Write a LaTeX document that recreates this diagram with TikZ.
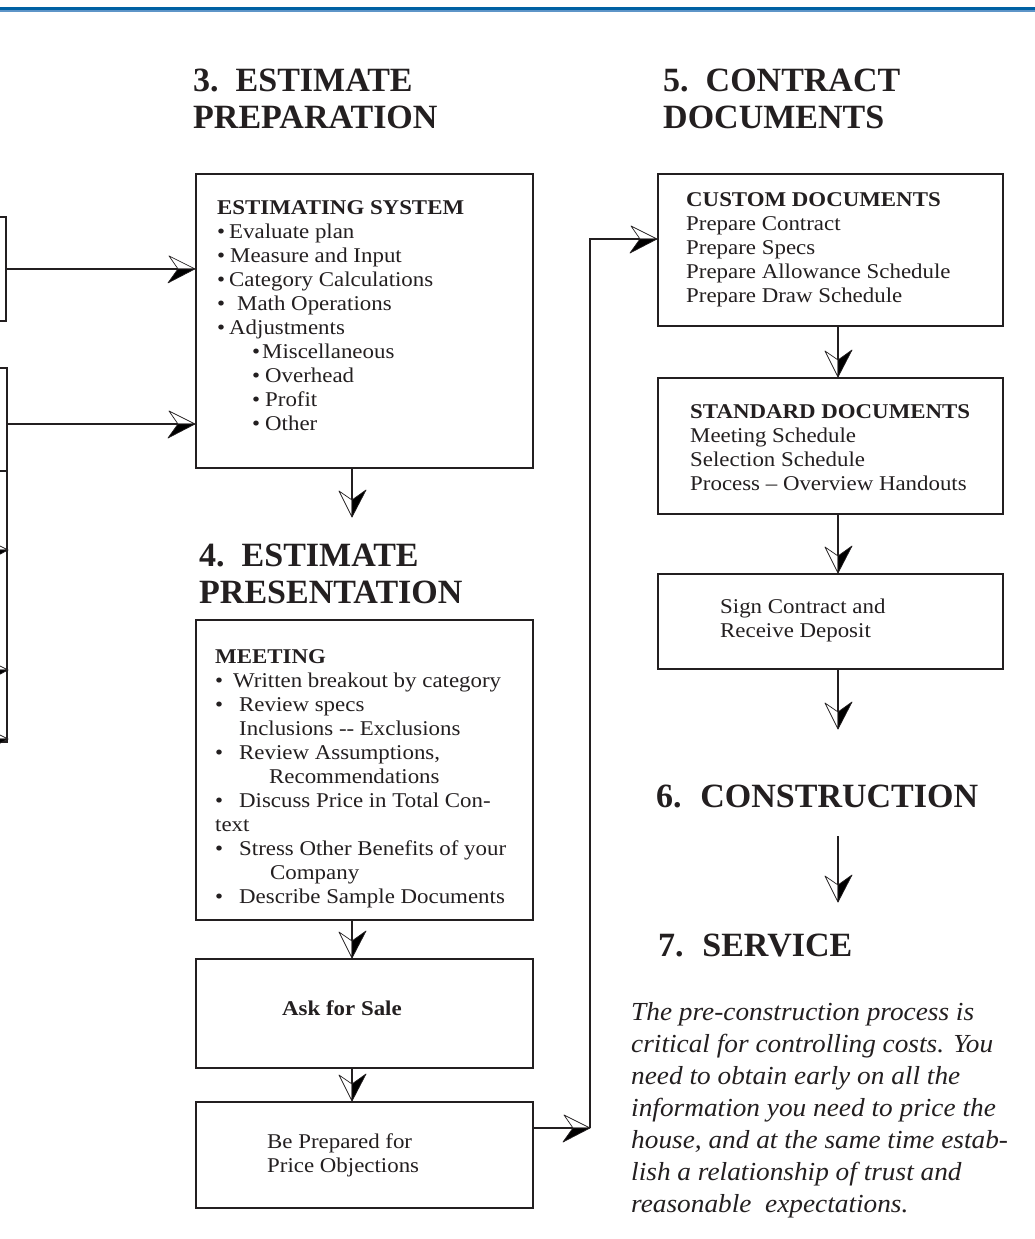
\documentclass[tikz,border=0pt]{standalone}
\usepackage{fontspec}
\setmainfont{Liberation Serif}
\newfontfamily\bodyfont[FakeStretch=1.09]{Liberation Serif}
\newfontfamily\parfont[FakeStretch=1.05]{Liberation Serif}
\usetikzlibrary{calc}
\definecolor{ink}{HTML}{231F20}
\definecolor{rule}{HTML}{0061A3}
\definecolor{rulelight}{HTML}{5E95C8}
\newcommand\rows[1]{\vtop{\halign{##\hfil\cr#1\crcr}}}
\newcommand\B[1]{\makebox[#1pt][l]{•}}
\pgfdeclarearrow{
  name=SplitL,
  setup code={
    \pgfarrowssettipend{0pt}
    \pgfarrowssetlineend{-15pt}
    \pgfarrowshullpoint{0pt}{0pt}
    \pgfarrowshullpoint{-27pt}{14pt}
    \pgfarrowshullpoint{-27pt}{-14pt}
  },
  drawing code={
    \pgfsetlinewidth{0.7pt}
    \pgfsetroundjoin
    \pgfpathmoveto{\pgfpointorigin}
    \pgfpathlineto{\pgfpoint{-26pt}{13pt}}
    \pgfpathlineto{\pgfpoint{-17pt}{0pt}}
    \pgfpathclose
    \pgfsetfillcolor{white}
    \pgfusepathqfillstroke
    \pgfpathmoveto{\pgfpointorigin}
    \pgfpathlineto{\pgfpoint{-27pt}{-14pt}}
    \pgfpathlineto{\pgfpoint{-17pt}{0pt}}
    \pgfpathclose
    \pgfsetfillcolor{black}
    \pgfusepathqfillstroke
  }
}
\pgfdeclarearrow{
  name=SplitR,
  setup code={
    \pgfarrowssettipend{0pt}
    \pgfarrowssetlineend{-15pt}
    \pgfarrowshullpoint{0pt}{0pt}
    \pgfarrowshullpoint{-27pt}{14pt}
    \pgfarrowshullpoint{-27pt}{-14pt}
  },
  drawing code={
    \pgfsetlinewidth{0.7pt}
    \pgfsetroundjoin
    \pgfpathmoveto{\pgfpointorigin}
    \pgfpathlineto{\pgfpoint{-26pt}{-13pt}}
    \pgfpathlineto{\pgfpoint{-17pt}{0pt}}
    \pgfpathclose
    \pgfsetfillcolor{white}
    \pgfusepathqfillstroke
    \pgfpathmoveto{\pgfpointorigin}
    \pgfpathlineto{\pgfpoint{-27pt}{14pt}}
    \pgfpathlineto{\pgfpoint{-17pt}{0pt}}
    \pgfpathclose
    \pgfsetfillcolor{black}
    \pgfusepathqfillstroke
  }
}
\tikzset{
  box/.style={draw=ink, line width=1.8pt, rectangle, inner sep=0pt, anchor=north west},
  conn/.style={draw=ink, line width=1.6pt},
  txt/.style={anchor=base west, inner sep=0pt, text=ink, font=\bodyfont\fontsize{21}{24}\selectfont},
  head/.style={anchor=base west, inner sep=0pt, text=ink, font=\bfseries\fontsize{34}{37}\selectfont},
}
\begin{document}
\begin{tikzpicture}[x=1pt,y=-1pt]
\useasboundingbox (0,0) rectangle (1035,1239);
\clip (0,0) rectangle (1035,1239);
\fill[white] (0,0) rectangle (1035,1239);
\fill[rule] (0,7.5) rectangle (1035,10.5);
\fill[rulelight] (0,10.5) rectangle (1035,12);

% left clipped boxes
\node[box, minimum width=40pt, minimum height=104pt, anchor=north east] (lA) at (7,216) {};
\node[box, minimum width=40pt, minimum height=103pt, anchor=north east] (lB) at (8,367) {};
\node[box, minimum width=40pt, minimum height=271pt, anchor=north east] (lC) at (8,470) {};

% main boxes
\node[box, minimum width=337pt, minimum height=294pt] (b3) at (195,173) {};
\node[box, minimum width=337pt, minimum height=300pt] (m4) at (195,619) {};
\node[box, minimum width=337pt, minimum height=109pt] (ask) at (195,958) {};
\node[box, minimum width=337pt, minimum height=106pt] (bp) at (195,1101) {};
\node[box, minimum width=345pt, minimum height=152pt] (c5) at (657,173) {};
\node[box, minimum width=345pt, minimum height=136pt] (s5) at (657,377) {};
\node[box, minimum width=345pt, minimum height=95pt] (g5) at (657,573) {};

% headings
\node[head] (h3) at (193,91) {\rows{3.\hspace{0.5em}ESTIMATE\cr PREPARATION}};
\node[head] (h5) at (663,91) {\rows{5.\hspace{0.5em}CONTRACT\cr DOCUMENTS}};
\node[head] (h4) at (199,566) {\rows{4.\hspace{0.5em}ESTIMATE\cr PRESENTATION}};
\node[head] (h6) at (656,807) {6.\hspace{0.55em}CONSTRUCTION};
\node[head] (h7) at (658,956) {7.\hspace{0.55em}SERVICE};

% box texts
\node[txt] (t3) at (217,214) {\rows{%
\textbf{ESTIMATING SYSTEM}\cr
\B{12}Evaluate plan\cr
\B{13}Measure and Input\cr
\B{12}Category Calculations\cr
\B{20}Math Operations\cr
\B{12}Adjustments\cr
\hspace*{35pt}\B{10}Miscellaneous\cr
\hspace*{35pt}\B{13}Overhead\cr
\hspace*{35pt}\B{13}Profit\cr
\hspace*{35pt}\B{13}Other}};

\node[txt] (t4) at (215,663) {\rows{%
\textbf{MEETING}\cr
\B{18}Written breakout by category\cr
\B{24}Review specs\cr
\hspace*{24pt}Inclusions -{}- Exclusions\cr
\B{24}Review Assumptions,\cr
\hspace*{54pt}Recommendations\cr
\B{24}Discuss Price in Total Con-\cr
text\cr
\B{24}Stress Other Benefits of your\cr
\hspace*{55pt}Company\cr
\B{24}Describe Sample Documents}};

\node[txt] (task) at (282,1015) {\textbf{Ask for Sale}};
\node[txt] (tbp) at (267,1148) {\rows{Be Prepared for\cr Price Objections}};

\node[txt] (tc5) at (686,206) {\rows{%
\textbf{CUSTOM DOCUMENTS}\cr
Prepare Contract\cr
Prepare Specs\cr
Prepare Allowance Schedule\cr
Prepare Draw Schedule}};
\node[txt] (ts5) at (690,418) {\rows{%
\textbf{STANDARD DOCUMENTS}\cr
Meeting Schedule\cr
Selection Schedule\cr
Process – Overview Handouts}};
\node[txt] (tg5) at (720,613) {\rows{Sign Contract and\cr Receive Deposit}};

\node[anchor=base west, inner sep=0pt, text=ink, font=\parfont\itshape\fontsize{26}{32}\selectfont] (para) at (631,1020) {\rows{%
The pre-construction process is\cr
critical for controlling costs. You\cr
need to obtain early on all the\cr
information you need to price the\cr
house, and at the same time estab-\cr
lish a relationship of trust and\cr
reasonable\ \ expectations.}};

% connectors, left column
\draw[conn,-SplitL] (lA.east) -- (lA.east -| b3.west);
\coordinate (aB) at ($(lB.north east)+(0,57)$);
\draw[conn,-SplitL] (aB) -- (aB -| b3.west);
\coordinate (in1) at (-40,550);
\coordinate (in2) at (-40,670);
\coordinate (in3) at (-40,739);
\draw[conn,-SplitL] (in1) -- (in1 -| lC.east);
\draw[conn,-SplitL] (in2) -- (in2 -| lC.east);
\draw[conn,-SplitL] (in3) -- (in3 -| lC.east);

% middle column
\coordinate (x3) at ($(b3.south west)+(157,0)$);
\coordinate (tip4) at (352,517);
\draw[conn,-SplitR] (x3) -- (tip4);
\draw[conn,-SplitR] ($(m4.south west)+(157,0)$) -- ($(ask.north west)+(157,0)$);
\draw[conn,-SplitR] ($(ask.south west)+(157,0)$) -- ($(bp.north west)+(157,0)$);

% connector to contract documents
\coordinate (k1) at ($(bp.north east)+(0,27)$);
\coordinate (k2) at (590,1128);
\coordinate (k3) at ($(c5.north west)+(0,66)$);
\draw[conn,-SplitL] (k1) -- (k2);
\draw[conn,-SplitL] (k2) |- (k3);

% right column
\draw[conn,-SplitR] ($(c5.south west)+(181,0)$) -- ($(s5.north west)+(181,0)$);
\draw[conn,-SplitR] ($(s5.south west)+(181,0)$) -- ($(g5.north west)+(181,0)$);
\coordinate (tip6) at (838,729);
\draw[conn,-SplitR] ($(g5.south west)+(181,0)$) -- (tip6);
\coordinate (f6) at (838,836);
\coordinate (tip7) at (838,902);
\draw[conn,-SplitR] (f6) -- (tip7);
\end{tikzpicture}
\end{document}
